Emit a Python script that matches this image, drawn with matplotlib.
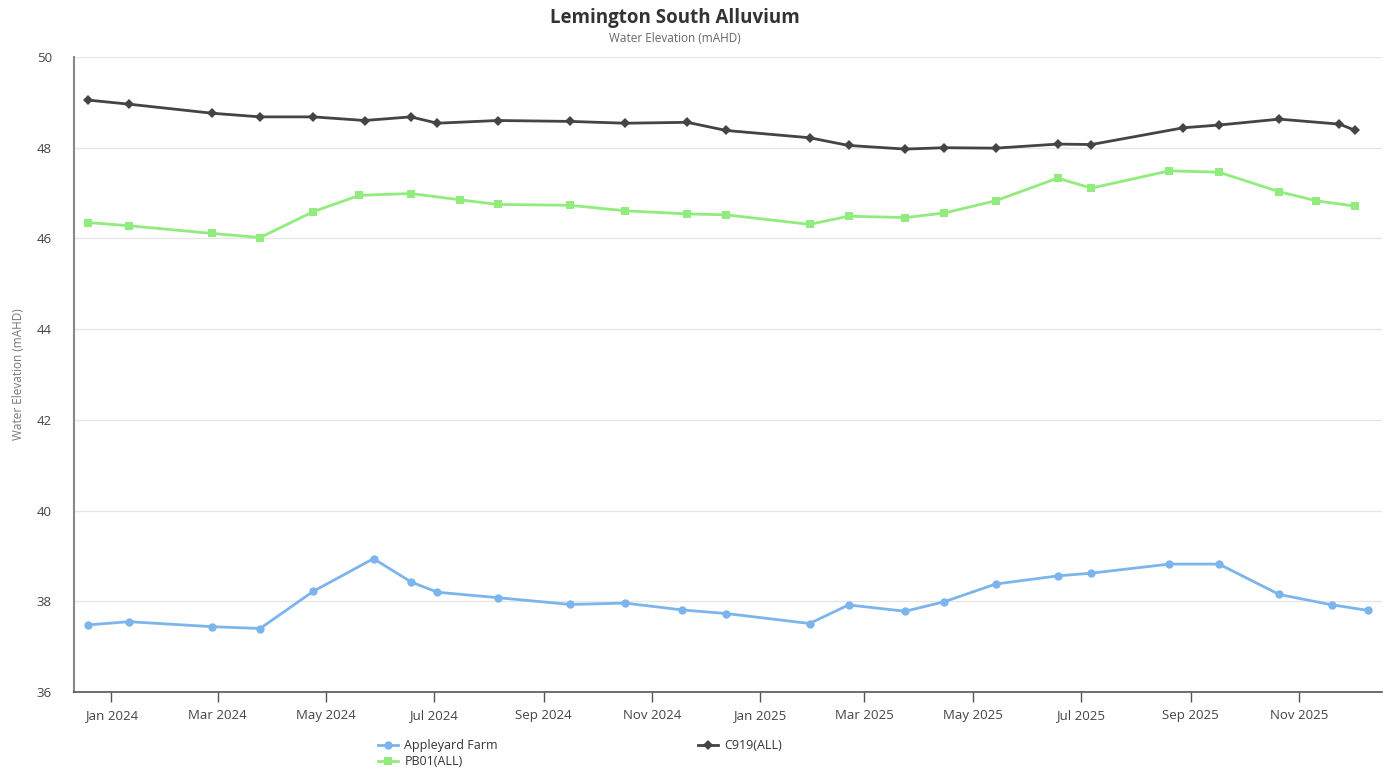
import matplotlib
matplotlib.use("Agg")
import matplotlib.pyplot as plt
import matplotlib.dates as mdates
import numpy as np
import datetime as dt

plt.rcParams['font.family'] = ['Open Sans', 'DejaVu Sans']

appleyard_dates = ["2023-12-19", "2024-01-11", "2024-02-27", "2024-03-25", "2024-04-24",
                   "2024-05-28", "2024-06-18", "2024-07-03", "2024-08-06", "2024-09-16",
                   "2024-10-17", "2024-11-18", "2024-12-13", "2025-01-29", "2025-02-20",
                   "2025-03-24", "2025-04-15", "2025-05-14", "2025-06-18", "2025-07-07",
                   "2025-08-20", "2025-09-17", "2025-10-21", "2025-11-20", "2025-12-10"]
appleyard_vals = [37.48, 37.55, 37.44, 37.40, 38.22, 38.94, 38.43, 38.20, 38.08, 37.93,
                  37.96, 37.81, 37.73, 37.51, 37.92, 37.78, 37.99, 38.38, 38.56, 38.62,
                  38.82, 38.82, 38.15, 37.92, 37.80]

pb01_dates = ["2023-12-19", "2024-01-11", "2024-02-27", "2024-03-25", "2024-04-24",
              "2024-05-20", "2024-06-18", "2024-07-16", "2024-08-06", "2024-09-16",
              "2024-10-17", "2024-11-21", "2024-12-13", "2025-01-29", "2025-02-20",
              "2025-03-24", "2025-04-15", "2025-05-14", "2025-06-18", "2025-07-07",
              "2025-08-20", "2025-09-17", "2025-10-21", "2025-11-11", "2025-12-03"]
pb01_vals = [46.35, 46.28, 46.11, 46.02, 46.59, 46.95, 46.99, 46.85, 46.75, 46.73,
             46.61, 46.54, 46.52, 46.31, 46.49, 46.46, 46.56, 46.83, 47.33, 47.11,
             47.49, 47.46, 47.03, 46.83, 46.71]

c919_dates = ["2023-12-19", "2024-01-11", "2024-02-27", "2024-03-25", "2024-04-24",
              "2024-05-23", "2024-06-18", "2024-07-03", "2024-08-06", "2024-09-16",
              "2024-10-17", "2024-11-21", "2024-12-13", "2025-01-29", "2025-02-20",
              "2025-03-24", "2025-04-15", "2025-05-14", "2025-06-18", "2025-07-07",
              "2025-08-28", "2025-09-17", "2025-10-21", "2025-11-24", "2025-12-03"]
c919_vals = [49.05, 48.96, 48.76, 48.68, 48.68, 48.60, 48.68, 48.54, 48.60, 48.58,
             48.54, 48.56, 48.38, 48.22, 48.05, 47.97, 48.00, 47.99, 48.08, 48.07,
             48.44, 48.50, 48.63, 48.52, 48.38]

y_ticks = [36, 38, 40, 42, 44, 46, 48, 50]

def to_dates(lst):
    return [dt.datetime.strptime(s, "%Y-%m-%d") for s in lst]

fig = plt.figure(figsize=(13.91, 7.71), dpi=100)
ax = fig.add_axes([74/1391, 1-692/771, (1382-74)/1391, (692-57)/771])

series = [
    ("Appleyard Farm", appleyard_dates, appleyard_vals, "#7cb5ec", "o", 6.0),
    ("PB01(ALL)", pb01_dates, pb01_vals, "#90ed7d", "s", 5.6),
    ("C919(ALL)", c919_dates, c919_vals, "#434348", "D", 4.6),
]
handles = []
for name, d, v, c, m, ms in series:
    h, = ax.plot(to_dates(d), v, color=c, lw=2, marker=m, ms=ms,
                 markeredgewidth=0, label=name, zorder=3)
    handles.append(h)

ax.set_ylim(36, 50)
ax.set_yticks(y_ticks)
ax.set_xlim(dt.datetime(2023, 12, 11), dt.datetime(2025, 12, 18))
ax.xaxis.set_major_locator(mdates.MonthLocator(bymonth=[1, 3, 5, 7, 9, 11]))
ax.xaxis.set_major_formatter(mdates.DateFormatter('%b %Y'))

ax.grid(axis='y', color='#e6e6e6', lw=1)
ax.set_axisbelow(True)
for s in ['top', 'right']:
    ax.spines[s].set_visible(False)
ax.spines['left'].set_color('#888888')
ax.spines['left'].set_linewidth(1.5)
ax.spines['bottom'].set_color('#555555')
ax.spines['bottom'].set_linewidth(1.2)

ax.tick_params(axis='y', length=0, pad=16, labelsize=9.5, labelcolor='#444444')
ax.tick_params(axis='x', length=7, width=1, color='#555555', pad=5,
               labelsize=9.5, labelcolor='#444444')

ax.set_ylabel("Water Elevation (mAHD)", fontsize=8.5, color='#777777')
ax.yaxis.set_label_coords(-49/1308, 0.5)

fig.text(675/1391, 1-18/771, "Lemington South Alluvium", ha='center', va='center',
         fontsize=13.5, fontweight='bold', color='#333333')
fig.text(675/1391, 1-38/771, "Water Elevation (mAHD)", ha='center', va='center',
         fontsize=8.5, color='#666666')

leg = fig.legend(handles=handles, loc='upper left', bbox_to_anchor=(378/1391, 1-739/771),
                 ncol=2, frameon=False, fontsize=9, handlelength=1.6, handletextpad=0.5,
                 columnspacing=16.0, labelspacing=0.25, borderaxespad=0, borderpad=0)
for t in leg.get_texts():
    t.set_color('#333333')

fig.savefig("out.png", dpi=100)
